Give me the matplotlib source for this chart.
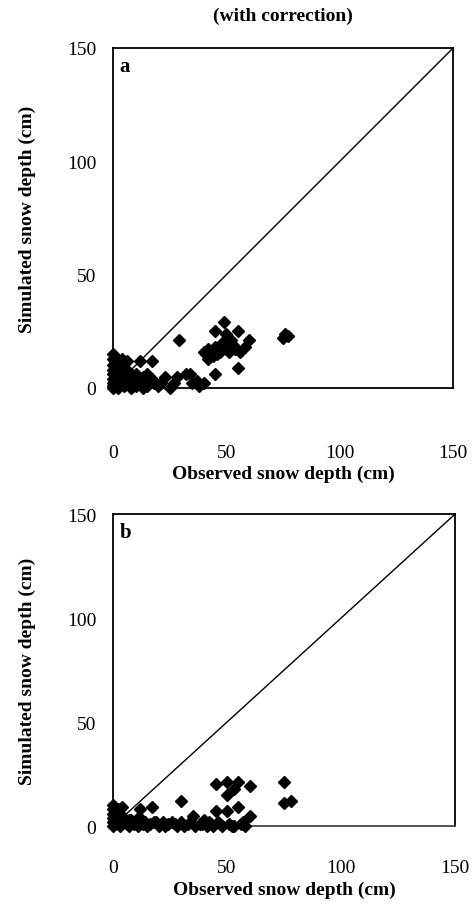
import matplotlib.pyplot as plt

plt.rcParams['font.family'] = ['Liberation Serif', 'DejaVu Serif']

# panel a: with correction
obs_a = [0, 0, 0, 0, 0, 0, 0, 0, 0, 1, 1, 2, 2, 2, 3, 3, 4, 4, 5, 5, 5, 6, 6, 7, 7, 8, 8, 9, 10, 10,
         11, 12, 12, 13, 14, 15, 15, 17, 17, 18, 20, 21, 23, 25, 27, 28, 29, 32, 34, 35, 37, 38, 40, 40,
         41, 42, 42, 43, 44, 45, 45, 45, 46, 47, 48, 49, 50, 50, 51, 52, 53, 54, 55, 55, 56, 58, 60,
         75, 76, 77, 3, 6, 9, 11, 2, 5, 8, 13]
sim_a = [15, 13, 10, 8, 6, 4, 2, 1, 0, 5, 3, 12, 0, 7, 2, 10, 13, 5, 3, 1, 11, 12, 8, 4, 2, 0, 6, 3, 1, 6,
         4, 12, 2, 5, 3, 1, 6, 12, 4, 2, 1, 2, 5, 0, 2, 5, 21, 6, 6, 2, 3, 1, 2, 16,
         15, 13, 17, 16, 14, 25, 6, 18, 15, 16, 20, 29, 24, 18, 16, 21, 19, 17, 25, 9, 16, 18, 21,
         22, 24, 23, 5, 5, 5, 2, 4, 7, 2, 0]

# panel b
obs_b = [0, 0, 0, 0, 0, 0, 1, 2, 2, 3, 4, 4, 5, 6, 7, 8, 9, 10, 11, 12, 12, 13, 14, 15, 16, 17, 18,
         20, 22, 24, 26, 28, 30, 30, 33, 35, 36, 38, 40, 41, 43, 44, 45, 45, 46, 48, 50, 50, 50, 51,
         53, 53, 55, 55, 56, 58, 60, 60, 75, 75, 78,
         19, 23, 27, 31, 34, 39, 42, 47, 52, 57, 3, 7, 11]
sim_b = [10, 8, 6, 4, 2, 0, 1, 3, 8, 0, 9, 5, 2, 1, 0, 3, 1, 2, 0, 8, 4, 1, 2, 0, 1, 9, 2,
         0, 2, 1, 2, 0, 12, 2, 1, 5, 0, 1, 3, 0, 1, 0, 20, 7, 2, 0, 21, 15, 7, 1,
         18, 0, 21, 9, 1, 0, 19, 5, 21, 11, 12,
         2, 0, 1, 0, 2, 1, 2, 1, 0, 2, 5, 3, 4]

ticks = [0, 50, 100, 150]

fig = plt.figure(figsize=(4.75, 9.12), dpi=100)
ax1 = fig.add_axes([0.238, 0.5735, 0.716, 0.3728])
ax2 = fig.add_axes([0.238, 0.0932, 0.72, 0.342])

for ax, x, y, tag, xpad in [(ax1, obs_a, sim_a, 'a', 40), (ax2, obs_b, sim_b, 'b', 24)]:
    ax.plot([0, 150], [0, 150], color='black', lw=1)
    ax.plot(x, y, 'D', color='black', ms=6, mec='black', clip_on=False, zorder=3)
    ax.set_xlim(0, 150)
    ax.set_ylim(0, 150)
    ax.set_xticks(ticks)
    ax.set_yticks(ticks)
    ax.tick_params(length=0, labelsize=14)
    ax.tick_params(axis='y', pad=12)
    ax.tick_params(axis='x', pad=xpad)
    for s in ax.spines.values():
        s.set_linewidth(1.3)
    ax.set_xlabel('Observed snow depth (cm)', fontsize=14, fontweight='bold', labelpad=3)
    ax.set_ylabel('Simulated snow depth (cm)', fontsize=14, fontweight='bold', labelpad=22)
    ax.text(0.02, 0.975, tag, transform=ax.transAxes, fontsize=15, fontweight='bold', va='top')

ax2.spines['bottom'].set_color('#444444')
ax1.set_title('(with correction)', fontsize=14, fontweight='bold', pad=20)

fig.savefig('out.png', dpi=100)
